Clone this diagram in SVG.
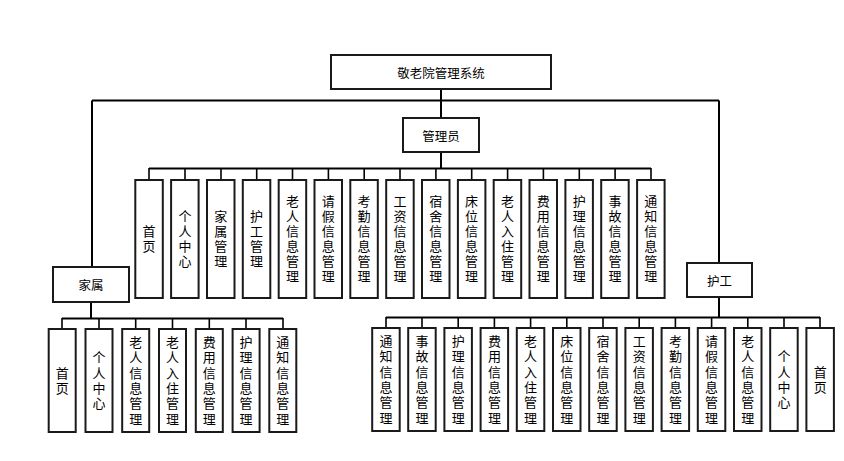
<svg xmlns="http://www.w3.org/2000/svg" width="844" height="461" viewBox="0 0 844 461">
<style>
.box{fill:#fff;stroke:#1a1a1a;stroke-width:2}
.ln{fill:none;stroke:#000;stroke-width:2}
.tk{fill:none;stroke:#000;stroke-width:1.6}
text{font-family:"Noto Sans CJK SC","Noto Sans",sans-serif;font-size:12.5px;fill:#000;text-anchor:middle;dominant-baseline:central}
.v{font-size:13px;writing-mode:vertical-rl;letter-spacing:2px}
.b{letter-spacing:2.3px}
</style>
<rect width="844" height="461" fill="#fff"/>
<g id="connectors">
<path class="ln" d="M441 89V118M92 100.5H719M92 100.5V267M719 100.5V263M441 152V168M149 168.5H651M91 302V318M62 318.5H283M719 297V317M386 317.5H820"/>
<path class="tk" d="M149 168V180M185 168V180M221 168V180M256.7 168V180M292.5 168V180M328.4 168V180M364.2 168V180M400 168V180M435.9 168V180M471.7 168V180M507.6 168V180M543.4 168V180M579.3 168V180M615.1 168V180M651 168V180"/>
<path class="tk" d="M62 318V329M99 318V329M135.7 318V329M172.5 318V329M209.3 318V329M246 318V329M283 318V329"/>
<path class="tk" d="M386 317V328M422 317V328M458.2 317V328M494.4 317V328M530.6 317V328M566.8 317V328M603 317V328M639.2 317V328M675.4 317V328M711.6 317V328M747.8 317V328M784 317V328M820 317V328"/>
</g>
<g id="root"><rect class="box" x="331" y="55" width="220" height="34"/><text x="441" y="72.5">敬老院管理系统</text></g>
<g id="admin"><rect class="box" x="403" y="118" width="76" height="34"/><text x="441" y="135">管理员</text></g>
<g id="family"><rect class="box" x="53" y="267" width="76" height="35"/><text x="91" y="284.5">家属</text></g>
<g id="worker"><rect class="box" x="687" y="263" width="65" height="34"/><text x="719.5" y="280.5">护工</text></g>

<g id="a1"><rect class="box" x="135.3" y="180" width="27.5" height="118"/><text class="v" x="149" y="240">首页</text></g>
<g id="a2"><rect class="box" x="171.1" y="180" width="27.5" height="118"/><text class="v" x="184.9" y="240">个人中心</text></g>
<g id="a3"><rect class="box" x="207" y="180" width="27.5" height="118"/><text class="v" x="220.7" y="240">家属管理</text></g>
<g id="a4"><rect class="box" x="242.8" y="180" width="27.5" height="118"/><text class="v" x="256.6" y="240">护工管理</text></g>
<g id="a5"><rect class="box" x="278.7" y="180" width="27.5" height="118"/><text class="v" x="292.4" y="240">老人信息管理</text></g>
<g id="a6"><rect class="box" x="314.5" y="180" width="27.5" height="118"/><text class="v" x="328.3" y="240">请假信息管理</text></g>
<g id="a7"><rect class="box" x="350.3" y="180" width="27.5" height="118"/><text class="v" x="364.1" y="240">考勤信息管理</text></g>
<g id="a8"><rect class="box" x="386.2" y="180" width="27.5" height="118"/><text class="v" x="400" y="240">工资信息管理</text></g>
<g id="a9"><rect class="box" x="422" y="180" width="27.5" height="118"/><text class="v" x="435.8" y="240">宿舍信息管理</text></g>
<g id="a10"><rect class="box" x="457.9" y="180" width="27.5" height="118"/><text class="v" x="471.6" y="240">床位信息管理</text></g>
<g id="a11"><rect class="box" x="493.7" y="180" width="27.5" height="118"/><text class="v" x="507.5" y="240">老人入住管理</text></g>
<g id="a12"><rect class="box" x="529.5" y="180" width="27.5" height="118"/><text class="v" x="543.3" y="240">费用信息管理</text></g>
<g id="a13"><rect class="box" x="565.4" y="180" width="27.5" height="118"/><text class="v" x="579.2" y="240">护理信息管理</text></g>
<g id="a14"><rect class="box" x="601.2" y="180" width="27.5" height="118"/><text class="v" x="615" y="240">事故信息管理</text></g>
<g id="a15"><rect class="box" x="637.1" y="180" width="27.5" height="118"/><text class="v" x="650.8" y="240">通知信息管理</text></g>

<g id="f1"><rect class="box" x="48.7" y="329" width="27" height="103"/><text class="v b" x="62.2" y="381.5">首页</text></g>
<g id="f2"><rect class="box" x="85.5" y="329" width="27" height="103"/><text class="v b" x="99" y="381.5">个人中心</text></g>
<g id="f3"><rect class="box" x="122.2" y="329" width="27" height="103"/><text class="v b" x="135.7" y="381.5">老人信息管理</text></g>
<g id="f4"><rect class="box" x="159" y="329" width="27" height="103"/><text class="v b" x="172.5" y="381.5">老人入住管理</text></g>
<g id="f5"><rect class="box" x="195.8" y="329" width="27" height="103"/><text class="v b" x="209.3" y="381.5">费用信息管理</text></g>
<g id="f6"><rect class="box" x="232.6" y="329" width="27" height="103"/><text class="v b" x="246.1" y="381.5">护理信息管理</text></g>
<g id="f7"><rect class="box" x="269.3" y="329" width="27" height="103"/><text class="v b" x="282.8" y="381.5">通知信息管理</text></g>

<g id="w1"><rect class="box" x="372.2" y="328" width="27.5" height="103"/><text class="v b" x="386" y="380.5">通知信息管理</text></g>
<g id="w2"><rect class="box" x="408.2" y="328" width="27.5" height="103"/><text class="v b" x="422" y="380.5">事故信息管理</text></g>
<g id="w3"><rect class="box" x="444.4" y="328" width="27.5" height="103"/><text class="v b" x="458.2" y="380.5">护理信息管理</text></g>
<g id="w4"><rect class="box" x="480.6" y="328" width="27.5" height="103"/><text class="v b" x="494.4" y="380.5">费用信息管理</text></g>
<g id="w5"><rect class="box" x="516.8" y="328" width="27.5" height="103"/><text class="v b" x="530.6" y="380.5">老人入住管理</text></g>
<g id="w6"><rect class="box" x="553" y="328" width="27.5" height="103"/><text class="v b" x="566.8" y="380.5">床位信息管理</text></g>
<g id="w7"><rect class="box" x="589.2" y="328" width="27.5" height="103"/><text class="v b" x="603" y="380.5">宿舍信息管理</text></g>
<g id="w8"><rect class="box" x="625.4" y="328" width="27.5" height="103"/><text class="v b" x="639.2" y="380.5">工资信息管理</text></g>
<g id="w9"><rect class="box" x="661.6" y="328" width="27.5" height="103"/><text class="v b" x="675.4" y="380.5">考勤信息管理</text></g>
<g id="w10"><rect class="box" x="697.8" y="328" width="27.5" height="103"/><text class="v b" x="711.6" y="380.5">请假信息管理</text></g>
<g id="w11"><rect class="box" x="734" y="328" width="27.5" height="103"/><text class="v b" x="747.8" y="380.5">老人信息管理</text></g>
<g id="w12"><rect class="box" x="770.2" y="328" width="27.5" height="103"/><text class="v b" x="784" y="380.5">个人中心</text></g>
<g id="w13"><rect class="box" x="806.4" y="328" width="27.5" height="103"/><text class="v b" x="820.2" y="380.5">首页</text></g>
</svg>
